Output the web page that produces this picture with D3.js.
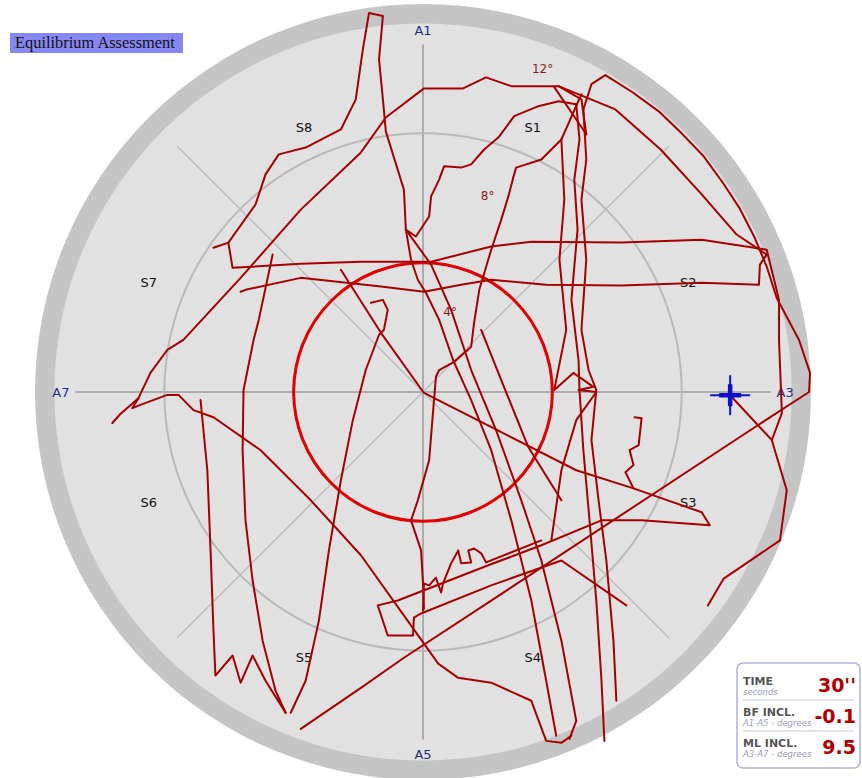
<!DOCTYPE html>
<html><head><meta charset="utf-8">
<script src="https://cdn.jsdelivr.net/npm/d3@7/dist/d3.min.js"></script>
<style>body{margin:0;background:#fff}svg{display:block}</style>
</head><body><svg id="c" width="862" height="778"></svg>
<script>
// ---- data (degrees: ML = x, BF = y) ----
const ringDegrees = [4, 8];
const degreeLabels = [{t:"4°", ml:0.84, bf:2.35}, {t:"8°", ml:2.0, bf:5.95}, {t:"12°", ml:3.7, bf:9.87}];
const axisLabels = [{t:"A1", ang:0}, {t:"A3", ang:90}, {t:"A5", ang:180}, {t:"A7", ang:270}];
const sectorLabels = ["S1","S2","S3","S4","S5","S6","S7","S8"];
const current = {ml: 9.5, bf: -0.1};
const infoRows = [
  {name:"TIME", unit:"seconds", value:"30''"},
  {name:"BF INCL.", unit:"A1-A5 - degrees", value:"-0.1"},
  {name:"ML INCL.", unit:"A3-A7 - degrees", value:"9.5"}
];
const t1 = [[-9.61,-0.96],[-9.36,-0.68],[-8.80,-0.19],[-8.43,0.59],[-7.91,1.30],[-7.41,1.61],[-5.64,3.53],[-3.78,5.64],[-1.92,7.41],[-1.15,8.49],[0.03,9.39],[1.24,9.39],[1.95,9.73],[2.73,9.46],[4.19,9.46],[4.90,9.05],[5.05,7.97]];
const t2 = [[-8.80,-0.19],[-8.99,-0.50],[-8.74,-0.40],[-7.91,-0.09],[-7.56,-0.09],[-7.10,-0.56],[-6.48,-0.78],[-5.02,-1.80],[-3.47,-3.35],[-1.92,-5.05],[0.03,-7.78],[0.47,-8.40],[1.09,-8.84],[2.11,-8.99],[3.35,-9.55],[3.81,-10.79],[4.28,-10.85],[4.59,-10.63]];
const t3 = [[-3.78,-10.42],[-1.92,-9.15],[-0.59,-8.22],[2.11,-6.45],[10.26,-1.09],[11.94,0],[11.97,0.59],[11.63,1.61],[10.94,2.91],[10.63,3.88],[10.26,4.77],[9.80,5.67],[9.27,6.48],[8.68,7.29],[8.00,8.00],[7.29,8.68],[6.48,9.27],[5.64,9.80],[5.21,9.52],[4.96,8.74]];
const t4 = [[4.19,9.46],[5.95,8.74],[7.35,7.50],[8.62,6.11],[9.70,4.87],[10.63,4.25],[10.42,3.94],[10.39,3.32],[8.62,3.38],[6.14,3.29],[3.81,3.32],[2.11,3.47],[1.18,3.32],[0.03,3.10],[-1.30,3.26],[-3.78,3.53],[-5.49,3.16],[-5.64,3.10]];
const t5 = [[-6.48,4.46],[-6.02,4.62],[-5.89,3.84],[-3.78,3.97],[-1.92,4.03],[0.25,4.03],[2.11,4.50],[3.35,4.65],[6.14,4.62],[8.62,4.71],[10.63,4.40],[11.01,2.85],[11.01,1.61],[11.10,-0.65],[10.79,-1.49],[9.5,-0.1]];
const t6 = [[-6.02,4.62],[-5.18,5.80],[-4.87,6.73],[-4.46,7.35],[-3.63,7.56],[-2.54,8.12],[-2.08,9.05],[-1.86,10.60],[-1.67,11.72],[-1.24,11.63],[-1.36,10.29],[-1.24,9.05],[-1.15,8.06],[-0.59,6.26],[-0.53,5.02],[-0.22,4.81],[0.19,5.43],[0.25,6.05],[0.50,6.57],[0.65,6.98],[1.18,6.94],[1.49,7.04],[1.89,7.50],[2.33,7.87],[2.82,8.53],[3.57,8.84],[4.19,8.99],[4.74,8.90]];
const t7 = [[-0.53,5.02],[-0.37,4.09],[-0.16,3.47],[0.09,3.07],[0.50,2.23],[0.93,0.99],[1.49,-0.25],[2.11,-1.80],[2.73,-3.97],[3.35,-6.45],[3.81,-8.93],[4.12,-10.63]];
const t8 = [[-0.53,5.02],[0.25,3.94],[0.87,2.54],[1.49,0.68],[2.26,-1.18],[3.04,-3.35],[3.66,-5.21],[4.28,-7.69],[4.74,-10.17],[4.53,-10.73]];
const t9 = [[4.28,7.81],[3.66,7.19],[2.88,6.94],[2.79,6.63],[2.64,6.05],[2.42,5.33],[2.11,4.40],[1.74,3.16],[1.58,2.14],[1.49,1.40],[0.96,0.93],[0.50,0.68],[0.40,0.47],[0.34,-0.25],[0.19,-2.11],[-0.16,-3.35],[-0.37,-3.97],[-0.06,-4.90],[0,-5.92],[0.03,-6.70]];
const t10 = [[-1.61,2.76],[-1.24,2.85],[-1.09,2.54],[-1.21,1.92],[-1.36,1.77],[-1.77,0.68],[-2.17,-0.87],[-2.54,-2.73],[-2.91,-4.90],[-3.22,-7.07],[-3.63,-8.93],[-4.09,-9.92]];
const t11 = [[-2.54,3.78],[-1.30,1.83],[0.03,-0.03],[2.42,-1.24],[4.74,-2.42],[6.51,-2.98]];
const t12 = [[-4.65,4.25],[-5.08,2.23],[-5.24,1.61],[-5.55,0.06],[-5.58,-1.80],[-5.49,-3.97],[-5.27,-5.83],[-4.96,-7.69],[-4.56,-9.24],[-4.25,-9.92]];
const t13 = [[-6.88,-0.25],[-6.67,-2.42],[-6.57,-4.90],[-6.48,-7.38],[-6.42,-8.77],[-5.89,-8.15],[-5.64,-8.99],[-5.27,-8.15],[-4.87,-8.93],[-4.25,-9.92]];
const t14 = [[6.54,-0.78],[6.76,-0.81],[6.67,-1.64],[6.39,-1.80],[6.51,-2.26],[6.26,-2.48],[6.51,-2.98],[8.62,-3.72],[8.87,-4.12],[6.76,-3.97],[5.52,-3.97],[3.66,-4.74],[2.02,-5.36],[0.81,-5.83],[-0.78,-6.45],[-1.40,-6.60],[-1.09,-7.53],[-0.31,-7.53],[-0.28,-6.98],[-0.06,-6.85],[2.11,-5.98],[4.28,-5.21],[6.29,-6.60]];
const t15 = [[0,-6.76],[0.03,-5.92],[0.19,-5.98],[0.40,-5.74],[0.56,-6.20],[0.62,-5.92],[0.87,-5.30],[1.09,-4.90],[1.18,-5.30],[1.49,-5.27],[1.40,-4.90],[1.58,-4.84],[1.80,-4.99],[1.95,-5.27],[3.66,-4.59]];
const t16 = [[4.74,8.90],[4.84,7.81],[4.68,6.57],[4.78,5.02],[4.59,2.85],[4.81,0.99],[4.84,0.06],[4.96,-1.80],[5.15,-3.97],[5.36,-6.45],[5.52,-8.93],[5.61,-10.79]];
const t17 = [[4.96,8.74],[5.05,7.19],[4.90,5.95],[5.05,4.09],[4.90,1.92],[5.12,0.68],[5.36,0.06],[5.21,-1.49],[5.43,-3.35],[5.67,-5.21],[5.89,-7.69],[5.98,-9.55]];
const t18 = [[4.06,9.43],[5.05,7.97]];
const t19 = [[4.90,9.21],[4.28,7.81],[4.37,5.95],[4.22,4.09],[4.43,1.92],[4.06,0.06],[4.65,0.59],[5.27,0.16],[4.81,0.06],[5.36,0],[4.74,-0.87],[4.28,-2.42],[3.97,-4.59]];
const t20 = [[1.80,1.92],[2.42,0.37],[3.26,-1.71],[4.28,-3.35]];
const t21 = [[10.79,-1.49],[11.25,-3.04],[11.04,-4.59],[9.30,-5.77],[8.81,-6.60]];
const traces = [t1,t2,t3,t4,t5,t6,t7,t8,t9,t10,t11,t12,t13,t14,t15,t16,t17,t18,t19,t20,t21];

// ---- layout ----
const svg = d3.select("#c");
const cx = 423, cy = 392, R = 388, maxDeg = 12;
const x = d3.scaleLinear().domain([-maxDeg, maxDeg]).range([cx - R, cx + R]);
const y = d3.scaleLinear().domain([-maxDeg, maxDeg]).range([cy + R, cy - R]);
const r = d3.scaleLinear().domain([0, maxDeg]).range([0, R]);
const sans = "DejaVu Sans, Verdana, sans-serif";

svg.append("circle").attr("cx", cx).attr("cy", cy).attr("r", r(12)).attr("fill", "#c5c5c5");
svg.append("circle").attr("cx", cx).attr("cy", cy).attr("r", r(11.4)).attr("fill", "#e1e1e1");

// spokes
d3.range(0, 360, 45).forEach(a => {
  const rad = a * Math.PI / 180, len = r(10.75);
  svg.append("line").attr("x1", cx).attr("y1", cy)
    .attr("x2", cx + len * Math.sin(rad)).attr("y2", cy - len * Math.cos(rad))
    .attr("stroke", a % 90 === 0 ? "#acacac" : "#bdbdbd").attr("stroke-width", a % 90 === 0 ? 2 : 1.5);
});
ringDegrees.forEach(d => svg.append("circle").attr("cx", cx).attr("cy", cy).attr("r", r(d))
  .attr("fill", "none").attr("stroke", "#b9b9b9").attr("stroke-width", 2));

// degree labels
degreeLabels.forEach(d => svg.append("text").attr("x", x(d.ml)).attr("y", y(d.bf))
  .attr("font-family", sans).attr("font-size", 12)
  .attr("fill", "#8b1c1c").attr("text-anchor", "middle").text(d.t));

// axis labels
axisLabels.forEach(d => {
  const rad = d.ang * Math.PI / 180, rr = r(11.2);
  svg.append("text").attr("x", cx + rr * Math.sin(rad)).attr("y", cy - rr * Math.cos(rad) + 5)
    .attr("font-family", sans).attr("font-size", 13)
    .attr("fill", "#26307a").attr("text-anchor", "middle").text(d.t);
});
sectorLabels.forEach((s, i) => {
  const rad = (22.5 + 45 * i) * Math.PI / 180, rr = r(8.88);
  const sx = Math.sin(rad);
  svg.append("text").attr("x", cx + rr * sx + (sx < 0 ? -9 : 0)).attr("y", cy - rr * Math.cos(rad) + 5)
    .attr("font-family", sans).attr("font-size", 13)
    .attr("fill", "#111").attr("text-anchor", "middle").text(s);
});

// red 4° target circle
svg.append("circle").attr("cx", cx).attr("cy", cy).attr("r", r(4))
  .attr("fill", "none").attr("stroke", "#e00000").attr("stroke-width", 3);

// trace
const line = d3.line().x(d => x(d[0])).y(d => y(d[1]));
svg.append("g").selectAll("path").data(traces).join("path")
  .attr("d", line).attr("fill", "none").attr("stroke", "#a50000")
  .attr("stroke-width", 2).attr("stroke-linejoin", "round").attr("stroke-linecap", "round");

// current position cross
const px = x(current.ml), py = y(current.bf);
const cross = svg.append("g").attr("stroke", "#1010c8");
cross.append("line").attr("x1", px - 20).attr("x2", px + 20).attr("y1", py).attr("y2", py).attr("stroke-width", 2);
cross.append("line").attr("x1", px).attr("x2", px).attr("y1", py - 20).attr("y2", py + 20).attr("stroke-width", 2);
cross.append("line").attr("x1", px - 11).attr("x2", px + 11).attr("y1", py).attr("y2", py).attr("stroke-width", 4.5);
cross.append("line").attr("x1", px).attr("x2", px).attr("y1", py - 11).attr("y2", py + 11).attr("stroke-width", 4.5);

// title
svg.append("rect").attr("x", 10).attr("y", 33).attr("width", 173).attr("height", 20).attr("fill", "#8787f2");
svg.append("text").attr("x", 15).attr("y", 48).attr("font-family", "Liberation Serif, Times New Roman, serif")
  .attr("font-size", 16.4).attr("fill", "#111").text("Equilibrium Assessment");

// info box
const bx = 737, by = 663, bw = 123, bh = 105;
svg.append("rect").attr("x", bx).attr("y", by).attr("width", bw).attr("height", bh).attr("rx", 6)
  .attr("fill", "#fff").attr("stroke", "#aeb2cf").attr("stroke-width", 1.5);
infoRows.forEach((row, i) => {
  const base = 685 + i * 31;
  svg.append("text").attr("x", bx + 6).attr("y", base).attr("font-family", sans)
    .attr("font-size", 11).attr("font-weight", "bold").attr("fill", "#555").text(row.name);
  svg.append("text").attr("x", bx + 6).attr("y", base + 10).attr("font-family", sans)
    .attr("font-size", 8.5).attr("font-style", "italic").attr("fill", "#9a9ab8").text(row.unit);
  svg.append("text").attr("x", bx + bw - 4).attr("y", base + 7).attr("font-family", sans)
    .attr("font-size", 19).attr("font-weight", "bold").attr("fill", "#b00000").attr("text-anchor", "end").text(row.value);
  if (i < infoRows.length - 1)
    svg.append("line").attr("x1", bx + 6).attr("x2", bx + bw - 6).attr("y1", base + 15).attr("y2", base + 15)
      .attr("stroke", "#c9c9d9").attr("stroke-width", 1);
});
</script></body></html>
